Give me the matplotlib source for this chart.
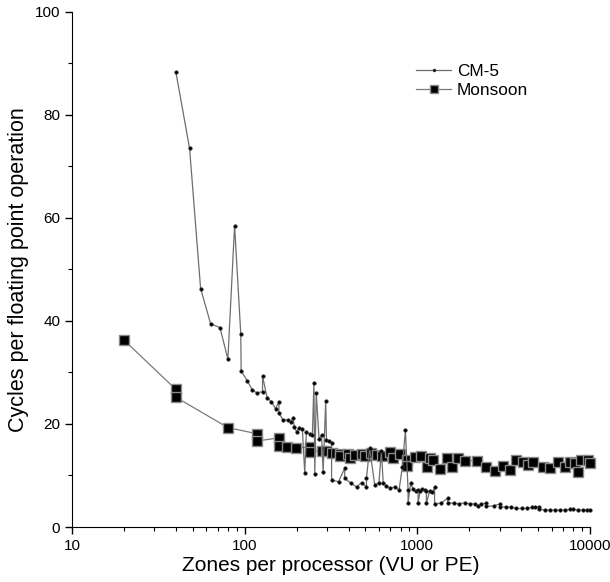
import matplotlib
matplotlib.use("Agg")
import matplotlib.pyplot as plt
import matplotlib.ticker as mtick

plt.rcParams['font.family'] = ['Liberation Sans', 'DejaVu Sans']

# CM-5 series (zones per processor, cycles per flop)
cm5_x = [40, 48, 55.6, 63.5, 72, 80, 87.5, 95, 95.5, 103.5, 111, 118, 127, 127,
         135, 143, 151, 158, 158, 167, 179, 185, 191, 194, 200, 207, 216, 223,
         228, 239, 247, 252, 255, 260, 270, 279, 285, 295, 298, 309, 319, 319,
         350, 380, 380, 412, 445, 476, 508, 508, 530, 567, 600, 620, 635, 661,
         700, 740, 785, 820, 854, 885, 885, 915, 947, 980, 1011, 1011, 1040,
         1070, 1102, 1130, 1130, 1180, 1223, 1260, 1260, 1380, 1502, 1502,
         1636, 1745, 1888, 2015, 2150, 2245, 2345, 2518, 2518, 2775, 3030,
         3030, 3260, 3510, 3757, 4020, 4300, 4610, 4830, 5050, 5050, 5530,
         5860, 6240, 6700, 7160, 7656, 8000, 8550, 9150, 9580, 10000]
cm5_y = [88.3, 73.5, 46.3, 39.5, 38.7, 32.6, 58.5, 37.5, 30.3, 28.4, 26.6, 26.0,
         26.3, 29.3, 25.1, 24.3, 23.0, 24.3, 22.1, 20.8, 20.8, 20.3, 21.2, 19.4,
         18.5, 19.3, 19.0, 10.5, 18.5, 18.0, 17.9, 27.9, 10.3, 26.0, 17.0, 17.9,
         10.7, 24.5, 16.8, 16.6, 16.4, 9.1, 8.8, 11.4, 9.5, 8.5, 7.8, 8.6, 7.8,
         9.5, 15.3, 8.2, 8.6, 14.8, 8.6, 8.0, 7.5, 7.8, 7.2, 11.7, 18.8, 7.2,
         4.7, 8.5, 7.3, 7.0, 7.2, 4.7, 7.0, 7.4, 7.2, 7.0, 4.6, 7.0, 6.7, 7.7,
         4.4, 4.7, 5.6, 4.7, 4.6, 4.5, 4.7, 4.5, 4.5, 4.1, 4.5, 4.6, 4.0, 4.1,
         4.5, 3.9, 3.9, 3.8, 3.6, 3.6, 3.6, 3.8, 3.8, 3.9, 3.4, 3.3, 3.3, 3.3,
         3.3, 3.3, 3.4, 3.4, 3.3, 3.3, 3.3, 3.3]

# Monsoon series
mon_x = [20, 40, 40, 80, 118, 118, 158, 158, 177, 198, 239, 239, 279, 295, 319,
         357, 357, 398, 406, 435, 476, 500, 543, 581, 621, 693, 725, 793, 874,
         874, 968, 1058, 1132, 1180, 1240, 1352, 1479, 1581, 1727, 1888, 2205,
         2518, 2813, 3144, 3467, 3757, 4104, 4387, 4690, 5358, 5860, 6548,
         7160, 7656, 8180, 8554, 8940, 9770, 10000]
mon_y = [36.3, 26.7, 25.2, 19.3, 18.1, 16.7, 17.3, 15.8, 15.5, 15.3, 15.6, 14.6,
         14.8, 14.7, 14.4, 14.2, 13.8, 14.2, 13.4, 14.0, 14.2, 13.8, 14.4, 14.0,
         13.8, 14.5, 13.4, 14.2, 13.0, 11.8, 13.5, 13.7, 11.6, 13.3, 13.0, 11.2,
         13.3, 11.6, 13.3, 12.9, 12.9, 11.6, 10.9, 11.8, 11.1, 13.0, 12.7, 12.0,
         12.7, 11.7, 11.4, 12.7, 11.7, 12.7, 12.4, 10.7, 13.0, 13.0, 12.4]

fig = plt.figure(figsize=(6.1, 5.82), dpi=100)
ax = fig.add_axes([0.118, 0.0945, 0.849, 0.885])

ax.plot(cm5_x, cm5_y, color='#6e6e6e', lw=0.9, marker='o', markersize=2.6,
        markerfacecolor='black', markeredgecolor='#444444', markeredgewidth=0.4,
        label='CM-5', clip_on=False, zorder=3)
ax.plot(mon_x, mon_y, color='#7a7a7a', lw=0.9, marker='s', markersize=7,
        markerfacecolor='black', markeredgecolor='#8a8a8a', markeredgewidth=1.0,
        label='Monsoon', clip_on=False, zorder=2)

ax.set_xscale('log')
ax.set_xlim(10, 10000)
ax.set_ylim(0, 100)
ax.xaxis.set_major_formatter(mtick.FuncFormatter(lambda v, p: '%d' % v))
ax.yaxis.set_major_locator(mtick.MultipleLocator(20))
ax.yaxis.set_minor_locator(mtick.MultipleLocator(10))
ax.tick_params(which='major', direction='out', length=5, width=1, labelsize=11)
ax.tick_params(which='minor', direction='out', length=3, width=0.8)
ax.spines['top'].set_visible(False)
ax.spines['right'].set_visible(False)
ax.set_xlabel('Zones per processor (VU or PE)', fontsize=15, labelpad=2)
ax.set_ylabel('Cycles per floating point operation', fontsize=15.5, labelpad=4)

ax.legend(loc='upper left', bbox_to_anchor=(0.635, 0.93), frameon=False,
          fontsize=12.4, handlelength=2.0, handletextpad=0.35, labelspacing=0.25,
          markerscale=0.8)

fig.savefig('out.png', dpi=100)
